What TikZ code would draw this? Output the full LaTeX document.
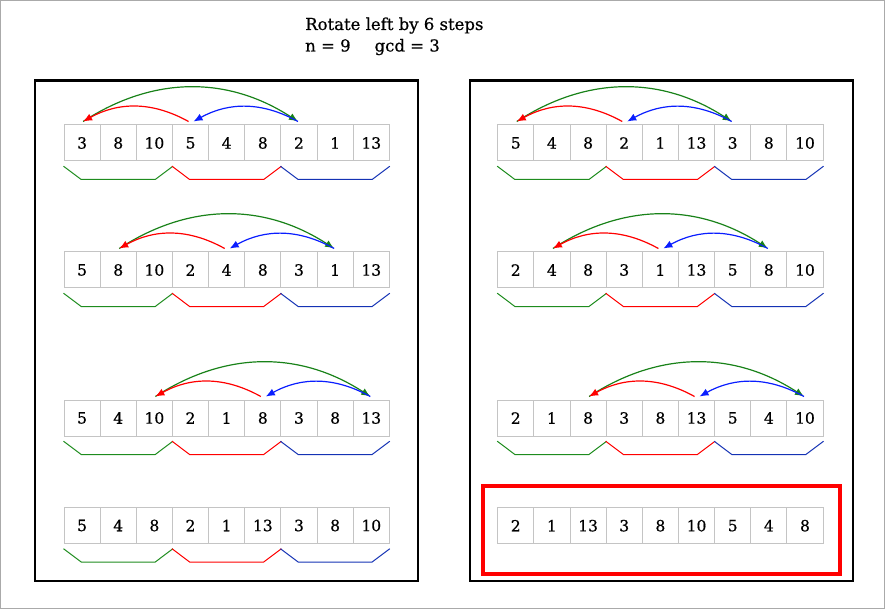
\documentclass[tikz,border=0pt]{standalone}
\usepackage{fontspec}
\setmainfont{DejaVu Serif}
\newfontfamily\typefont[FakeBold=0.6]{DejaVu Serif}
\usetikzlibrary{arrows.meta}
\definecolor{cellgray}{RGB}{196,196,196}
\definecolor{arcgreen}{RGB}{25,130,25}
\definecolor{arcred}{RGB}{255,0,0}
\definecolor{arcblue}{RGB}{10,30,255}
\definecolor{brgreen}{RGB}{30,140,30}
\definecolor{brred}{RGB}{255,0,0}
\definecolor{brblue}{RGB}{20,50,180}
\definecolor{framegray}{RGB}{170,170,170}
\tikzset{
  cellbox/.style={draw=cellgray, line width=1pt, minimum width=36.15pt, minimum height=36pt, inner sep=0pt, font=\typefont\fontsize{15.5}{18}\selectfont},
  arcbase/.style={line width=1.2pt, -{Latex[length=9pt,width=7.5pt]}},
  redarc/.style={arcbase, draw=arcred},
  bluearc/.style={arcbase, draw=arcblue},
  greenarc/.style={arcbase, draw=arcgreen},
  brk/.style={line width=1pt},
  panel/.style={draw=black, line width=2.3pt},
  titletext/.style={font=\typefont\fontsize{16.5}{19}\selectfont, inner sep=0pt, anchor=base west}
}
\newcommand{\cellrow}[4]{%
  \foreach \v [count=\k from 0] in {#4} {
    \node[cellbox] (#1c\k) at ({#2+(\k+0.5)*36.15}, #3) {\v};
  }
}
\newcommand{\arcset}[2]{%
  \pgfmathtruncatemacro\ia{#2}%
  \pgfmathtruncatemacro\ib{#2+3}%
  \pgfmathtruncatemacro\ic{#2+6}%
  \draw[greenarc] ([xshift=1pt,yshift=3pt]#1c\ia.north) to[bend left=33] ([xshift=-1pt,yshift=3pt]#1c\ic.north);
  \draw[redarc] ([xshift=-2pt,yshift=3pt]#1c\ib.north) to[bend right=29] ([xshift=1pt,yshift=3pt]#1c\ia.north);
  \draw[bluearc] ([xshift=-1pt,yshift=3pt]#1c\ic.north) to[bend right=29] ([xshift=3pt,yshift=3pt]#1c\ib.north);
}
\newcommand{\brkgroup}[3]{%
  \draw[brk, draw=#3] ([yshift=-4.7pt]#1.south west) -- ([xshift=17.7pt,yshift=-18pt]#1.south west) -- ([xshift=-17.7pt,yshift=-18pt]#2.south east) -- ([yshift=-4.7pt]#2.south east);
}
\newcommand{\brackets}[1]{%
  \brkgroup{#1c0}{#1c2}{brgreen}
  \brkgroup{#1c3}{#1c5}{brred}
  \brkgroup{#1c6}{#1c8}{brblue}
}
\begin{document}
\begin{tikzpicture}[x=1pt,y=-1pt]
\useasboundingbox (0,0) rectangle (885,609);
\draw[draw=framegray, line width=1pt] (0.5,0.5) rectangle (884.5,608.5);
% title
\node[titletext] (title1) at (305,30) {Rotate left by 6 steps};
\node[titletext] (title2) at (305,51.5) {n = 9\hspace{24pt}gcd = 3};
% panels
\draw[panel] (34.7,80.5) rectangle (418,581.3);
\draw[panel] (469.7,80.5) rectangle (852.7,581.3);
% left rows
\cellrow{La}{64}{143}{3,8,10,5,4,8,2,1,13}
\cellrow{Lb}{64}{270}{5,8,10,2,4,8,3,1,13}
\cellrow{Lc}{64}{418}{5,4,10,2,1,8,3,8,13}
\cellrow{Ld}{64}{525.5}{5,4,8,2,1,13,3,8,10}
\arcset{La}{0}
\arcset{Lb}{1}
\arcset{Lc}{2}
\brackets{La}
\brackets{Lb}
\brackets{Lc}
\brackets{Ld}
% right rows
\cellrow{Ra}{497.7}{143}{5,4,8,2,1,13,3,8,10}
\cellrow{Rb}{497.7}{270}{2,4,8,3,1,13,5,8,10}
\cellrow{Rc}{497.7}{418}{2,1,8,3,8,13,5,4,10}
\cellrow{Rd}{497.7}{525.7}{2,1,13,3,8,10,5,4,8}
\arcset{Ra}{0}
\arcset{Rb}{1}
\arcset{Rc}{2}
\brackets{Ra}
\brackets{Rb}
\brackets{Rc}
% result highlight
\draw[draw=red, line width=4pt] (483,486) rectangle (839.5,573.5);
\end{tikzpicture}
\end{document}
